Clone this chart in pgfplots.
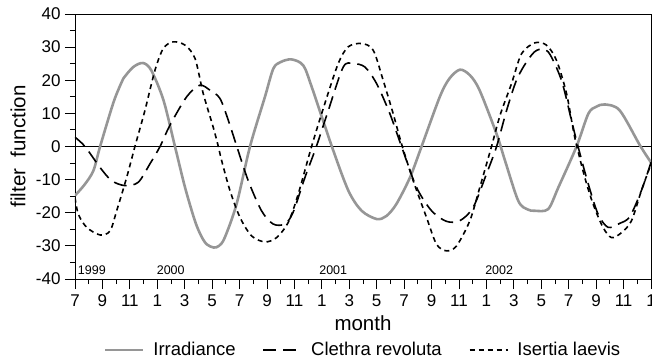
\documentclass[border=0pt]{standalone}
\usepackage{pgfplots}
\pgfplotsset{compat=1.18}
\usepackage{pgfplotstable}
\usepackage{fontspec}
\setmainfont{Liberation Sans}
\definecolor{irrgray}{RGB}{150,150,150}

\pgfplotstableread{
m v
0 -14.8
0.7 -11.5
1.34 -7.3
1.83 0
2.78 13
3.3 18.5
3.52 20.5
4.25 24
4.96 25.2
5.56 23
6.45 14
7.29 0
8.02 -12.3
8.74 -22.4
9.2 -27
9.6 -29.5
10.1 -30.5
10.5 -30
10.92 -27.5
11.78 -17.4
12.76 0
13.85 15
14.46 23.5
15.0 25.5
15.79 26.3
16.64 24.5
17.26 18
18.73 0
19.93 -13.3
20.9 -19.4
22.0 -21.9
22.7 -21
23.43 -17.4
24.43 -9.3
25.27 0
26.6 15
27.3 20.5
28.07 23.2
28.8 21.5
29.5 17
30.74 3.8
31.35 -4.2
32.32 -16.4
33.0 -19
33.53 -19.4
34.5 -18.9
35.25 -12.3
36.57 0
37.43 9.9
38.0 12
38.63 12.7
39.72 10.9
41.2 0.3
42 -4.8
}\irradiance

\pgfplotstableread{
m v
0 2.8
0.73 0
1.82 -6.3
2.67 -10.3
3.64 -11.8
4.61 -10.8
5.47 -5.2
6.2 0
6.92 6.4
8.14 15
9.1 18.5
9.84 17
10.57 14.5
11.18 7.9
11.8 0
12.63 -10.3
13.6 -19.4
14.45 -23.4
15.3 -23.4
15.9 -19.9
16.77 -9.3
17.6 0
18.47 10.9
19.56 24
20.3 25
21.14 24
21.99 19
22.96 9.9
23.81 0
24.9 -12.3
26.0 -19.4
27.09 -22.6
28.06 -22.4
29.03 -18.4
30.0 -8.3
30.74 0
31.47 10.9
32.19 20
32.92 25.5
33.65 29
34.5 28.6
35.47 20
36.2 7.9
36.68 0
37.41 -11.1
38.14 -20.4
38.87 -24.4
39.72 -23.2
40.45 -21.2
41.3 -13.3
42 -4.8
}\clethra

\pgfplotstableread{
m v
0 -15.4
0.24 -20.4
0.85 -24.4
1.82 -26.7
2.55 -25.5
3.04 -19.4
3.77 -9.3
4.37 0
5.1 10.9
5.83 23
6.44 29.6
7.16 31.6
8.02 30.6
8.75 26.6
9.35 16
10.08 5.8
10.45 0
10.69 -4.2
11.3 -13.3
12.03 -21.4
12.88 -27
13.85 -28.8
14.7 -27.5
15.55 -22.9
16.28 -14.3
17.25 0
18.22 13
19.19 25
19.92 30.1
20.9 31.1
21.74 29.1
22.47 20
23.2 9.9
23.81 0.8
24.66 -10.3
25.63 -21.4
26.36 -29.5
27.09 -31.5
27.82 -30
28.79 -22.4
29.52 -12.3
30.37 0
31.0 9.5
31.83 19
32.56 28
33.53 31.3
34.38 30.6
35.11 26
35.84 16
36.44 2.8
37.17 -9.3
37.78 -17.4
38.5 -24.4
39.12 -27.5
39.85 -26
40.58 -22.4
41.3 -13.3
42 -5.3
}\isertia

\begin{document}
\begin{tikzpicture}
\begin{axis}[
  at={(0pt,0pt)}, anchor=south west,
  scale only axis,
  width=576pt, height=265pt,
  xmin=0, xmax=42, ymin=-40, ymax=40,
  axis line style={black, line width=0.9pt},
  xtick={0,2,...,42},
  xticklabels={7,9,11,1,3,5,7,9,11,1,3,5,7,9,11,1,3,5,7,9,11,1},
  minor x tick num=1,
  ytick={-40,-30,...,40},
  minor y tick num=1,
  tick align=outside,
  xtick pos=left, ytick pos=left,
  major tick length=10pt, minor tick length=5pt,
  every tick/.style={black, line width=0.9pt},
  /pgf/number format/assume math mode=true,
  tick label style={font=\fontsize{17}{17}\selectfont},
  xticklabel style={yshift=-2pt},
  yticklabel style={xshift=-1pt},
  every axis x label/.style={at={(axis description cs:0.5,0)}, yshift=-51pt, anchor=base, font=\fontsize{20.5}{20.5}\selectfont},
  every axis y label/.style={at={(axis description cs:0,0.5)}, xshift=-57pt, rotate=90, anchor=center, font=\fontsize{20.5}{20.5}\selectfont},
  xlabel={month},
  ylabel={filter\ \ function},
  legend style={at={(axis description cs:0.5,0)}, anchor=center, yshift=-71pt, draw=none, fill=none,
    font=\fontsize{18.5}{18.5}\selectfont, legend columns=3,
    /tikz/every odd column/.append style={column sep=7pt},
    /tikz/every even column/.append style={column sep=25pt}},
  legend image code/.code={\draw[#1] (0pt,0pt) -- (38pt,0pt);},
  clip=true,
]
\addplot[black, line width=0.9pt, forget plot] coordinates {(0,0) (42,0)};
\addplot[irrgray, line width=2.6pt, smooth, tension=0.5] table[x=m,y=v] {\irradiance};
\addlegendentry{Irradiance}
\addplot[black, line width=1.6pt, dash pattern=on 13pt off 7pt, smooth, tension=0.5] table[x=m,y=v] {\clethra};
\addlegendentry{Clethra revoluta}
\addplot[black, line width=1.6pt, dash pattern=on 5pt off 4pt, smooth, tension=0.5] table[x=m,y=v] {\isertia};
\addlegendentry{Isertia laevis}
\node[anchor=base west, font=\fontsize{12.5}{12.5}\selectfont, inner sep=0pt] at (axis cs:0.2,-38.5) {1999};
\node[anchor=base west, font=\fontsize{12.5}{12.5}\selectfont, inner sep=0pt] at (axis cs:5.95,-38.5) {2000};
\node[anchor=base west, font=\fontsize{12.5}{12.5}\selectfont, inner sep=0pt] at (axis cs:17.8,-38.5) {2001};
\node[anchor=base west, font=\fontsize{12.5}{12.5}\selectfont, inner sep=0pt] at (axis cs:29.9,-38.5) {2002};
\end{axis}
\pgfresetboundingbox
\path[use as bounding box] (-75pt,-80pt) rectangle (577pt,279pt);
\end{tikzpicture}
\end{document}
